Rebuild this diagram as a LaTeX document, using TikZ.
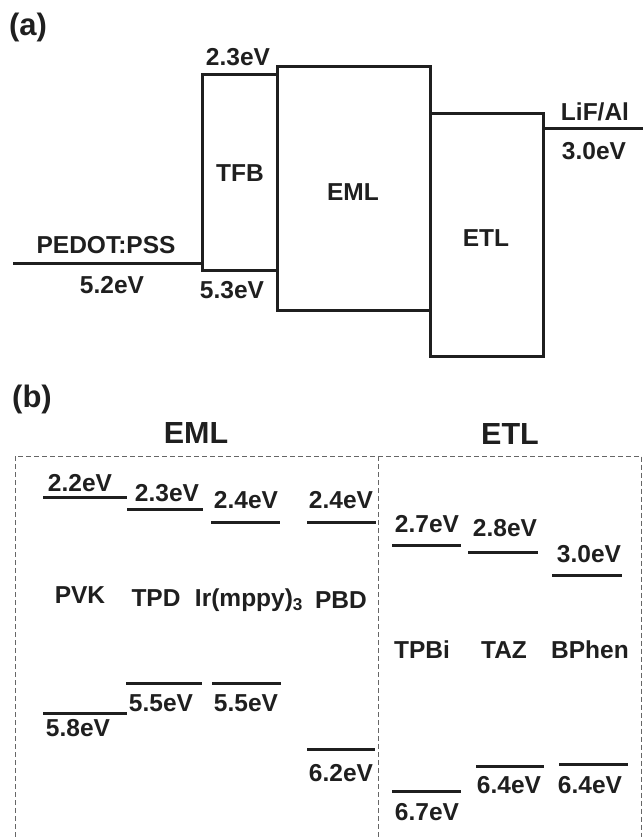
\documentclass[tikz,border=0pt]{standalone}
\usepackage{fontspec}
\setmainfont{Liberation Sans}
\begin{document}
\begin{tikzpicture}[x=1pt,y=-1pt,
  lvl/.style={line width=3pt, black!88},
  lbl/.style={font=\fontsize{24.5}{28}\selectfont\bfseries, inner sep=0pt, text=black!88},
  ttl/.style={font=\fontsize{30.5}{34}\selectfont\bfseries, inner sep=0pt, text=black!88},
  pnl/.style={font=\fontsize{31}{34}\selectfont\bfseries, inner sep=0pt, text=black!88},
  dbox/.style={line width=0.9pt, black!60, dash pattern=on 5pt off 3pt}]
\useasboundingbox (0,0) rectangle (643,837);
% ---------------- (a) ----------------
\node[pnl] (pa) at (28,27) {(a)};
\coordinate (pedL) at (13,263);
\coordinate (pedR) at (202,263);
\coordinate (tfbTL) at (202,75);
\coordinate (tfbBR) at (277,270);
\coordinate (emlTL) at (277,67);
\coordinate (emlBR) at (430,310);
\coordinate (etlTL) at (430,114);
\coordinate (etlBR) at (543,356);
\coordinate (lifL) at (543,129);
\coordinate (lifR) at (643,129);
\draw[lvl] (pedL) -- (pedR);
\draw[lvl] (tfbTL) rectangle (tfbBR);
\draw[lvl] (emlTL) rectangle (emlBR);
\draw[lvl] (etlTL) rectangle (etlBR);
\draw[lvl] (lifL) -- (lifR);
\node[lbl] (tfbL) at (238,57) {2.3eV};
\node[lbl] (tfbN) at (240,173) {TFB};
\node[lbl] (tfbH) at (232,290) {5.3eV};
\node[lbl] (pedN) at (106,245) {PEDOT:PSS};
\node[lbl] (pedV) at (112,285) {5.2eV};
\node[lbl] (emlN) at (353,192) {EML};
\node[lbl] (etlN) at (486,238) {ETL};
\node[lbl] (lifN) at (595,112) {LiF/Al};
\node[lbl] (lifV) at (594,151) {3.0eV};
% ---------------- (b) ----------------
\node[pnl] (pb) at (32,399) {(b)};
\node[ttl] (temL) at (196,433) {EML};
\node[ttl] (tetL) at (510,434) {ETL};
\draw[dbox] (15,837) -- (15,456) -- (641.5,456) -- (641.5,837);
\draw[dbox] (378,456) -- (378,837);
% PVK
\draw[lvl] (43,497) coordinate (pvkLa) -- (127,497) coordinate (pvkLb);
\draw[lvl] (43,713) coordinate (pvkHa) -- (127,713) coordinate (pvkHb);
\node[lbl] (pvkL) at (80,483) {2.2eV};
\node[lbl] (pvkN) at (80,595) {PVK};
\node[lbl] (pvkH) at (78,728) {5.8eV};
% TPD
\draw[lvl] (127,509) coordinate (tpdLa) -- (203,509) coordinate (tpdLb);
\draw[lvl] (126,683) coordinate (tpdHa) -- (202,683) coordinate (tpdHb);
\node[lbl] (tpdL) at (167,493) {2.3eV};
\node[lbl] (tpdN) at (156,598) {TPD};
\node[lbl] (tpdH) at (161,703) {5.5eV};
% Ir(mppy)3
\draw[lvl] (211,522) coordinate (irLa) -- (280,522) coordinate (irLb);
\draw[lvl] (212,683) coordinate (irHa) -- (281,683) coordinate (irHb);
\node[lbl] (irL) at (246,500) {2.4eV};
\node[lbl] (irN) at (249,600) {Ir(mppy)\textsubscript{3}};
\node[lbl] (irH) at (246,703) {5.5eV};
% PBD
\draw[lvl] (307,522) coordinate (pbdLa) -- (376,522) coordinate (pbdLb);
\draw[lvl] (307,749) coordinate (pbdHa) -- (375,749) coordinate (pbdHb);
\node[lbl] (pbdL) at (341,500) {2.4eV};
\node[lbl] (pbdN) at (341,600) {PBD};
\node[lbl] (pbdH) at (341,773) {6.2eV};
% TPBi
\draw[lvl] (392,545) coordinate (tpbLa) -- (461,545) coordinate (tpbLb);
\draw[lvl] (392,791) coordinate (tpbHa) -- (461,791) coordinate (tpbHb);
\node[lbl] (tpbL) at (427,524) {2.7eV};
\node[lbl] (tpbN) at (422,650) {TPBi};
\node[lbl] (tpbH) at (427,812) {6.7eV};
% TAZ
\draw[lvl] (468,552) coordinate (tazLa) -- (538,552) coordinate (tazLb);
\draw[lvl] (476,766) coordinate (tazHa) -- (544,766) coordinate (tazHb);
\node[lbl] (tazL) at (505,528) {2.8eV};
\node[lbl] (tazN) at (504,650) {TAZ};
\node[lbl] (tazH) at (509,785) {6.4eV};
% BPhen
\draw[lvl] (552,575) coordinate (bphLa) -- (622,575) coordinate (bphLb);
\draw[lvl] (559,764) coordinate (bphHa) -- (628,764) coordinate (bphHb);
\node[lbl] (bphL) at (589,554) {3.0eV};
\node[lbl] (bphN) at (590,650) {BPhen};
\node[lbl] (bphH) at (590,785) {6.4eV};
\end{tikzpicture}
\end{document}
